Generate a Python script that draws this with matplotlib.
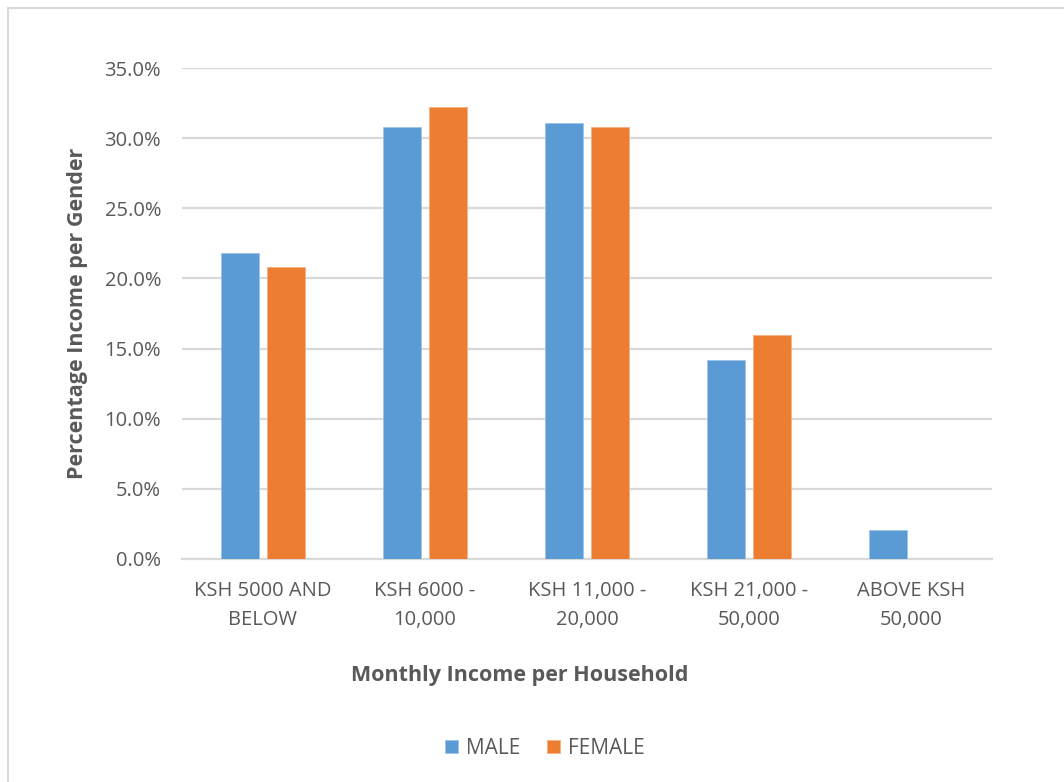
import numpy as np
import matplotlib.pyplot as plt
from matplotlib.lines import Line2D
from matplotlib.ticker import FuncFormatter

categories = ["KSH 5000 AND\nBELOW", "KSH 6000 -\n10,000", "KSH 11,000 -\n20,000",
              "KSH 21,000 -\n50,000", "ABOVE KSH\n50,000"]
male = [21.8, 30.8, 31.1, 14.2, 2.1]
female = [20.8, 32.2, 30.8, 16.0, 0.0]
yticks = [0, 5, 10, 15, 20, 25, 30, 35]

blue = "#5b9bd5"
orange = "#ed7d31"
grey_text = "#595959"

plt.rcParams['font.family'] = ['Open Sans', 'DejaVu Sans']

fig = plt.figure(figsize=(10.64, 7.82), dpi=100)
ax = fig.add_axes([182 / 1064, 1 - 559 / 782, (992 - 182) / 1064, (559 - 68) / 782])

x = np.arange(len(categories))
w = 0.23
ax.bar(x - 0.142, male, w, color=blue, edgecolor="#9dc3e6", linewidth=0.6, label="MALE", zorder=3)
ax.bar(x + 0.142, female, w, color=orange, edgecolor="#f4b183", linewidth=0.6, label="FEMALE", zorder=3)

ax.set_xlim(-0.5, len(categories) - 0.5)
ax.set_ylim(0, 35)
ax.set_yticks(yticks)
ax.yaxis.set_major_formatter(FuncFormatter(lambda v, p: f"{v:.1f}%"))
ax.grid(axis="y", color="#d9d9d9", linewidth=1.6, zorder=0)
for s in ["top", "right", "left"]:
    ax.spines[s].set_visible(False)
ax.spines["bottom"].set_color("#d9d9d9")
ax.spines["bottom"].set_linewidth(1.6)
ax.set_xticks(x)
ax.set_xticklabels(categories, color=grey_text, fontsize=14.5, linespacing=1.6)
ax.tick_params(axis="both", length=0, labelsize=14.5, labelcolor=grey_text)
ax.tick_params(axis="x", pad=16)
ax.tick_params(axis="y", pad=15)

ax.set_ylabel("Percentage Income per Gender", fontsize=15.5, fontweight="bold", color=grey_text)
ax.yaxis.set_label_coords((78 - 182) / 810, 0.5)
ax.set_xlabel("Monthly Income per Household", fontsize=15.5, fontweight="bold", color=grey_text)
ax.xaxis.set_label_coords((520 - 182) / 810, -(675 - 559) / 491)
ax.xaxis.label.set_va("center")
ax.yaxis.label.set_va("center")

fig.legend(loc="center", bbox_to_anchor=(545 / 1064, 1 - 748 / 782), ncol=2, frameon=False,
           fontsize=15, labelcolor=grey_text, handlelength=0.6, handleheight=0.6,
           handletextpad=0.4, columnspacing=1.3)

# chart frame
fig.add_artist(Line2D([8 / 1064, 1], [1 - 8 / 782, 1 - 8 / 782], color="#d9d9d9", linewidth=1.5))
fig.add_artist(Line2D([8 / 1064, 8 / 1064], [0, 1 - 8 / 782], color="#d9d9d9", linewidth=1.5))

fig.savefig("out.png", dpi=100)
